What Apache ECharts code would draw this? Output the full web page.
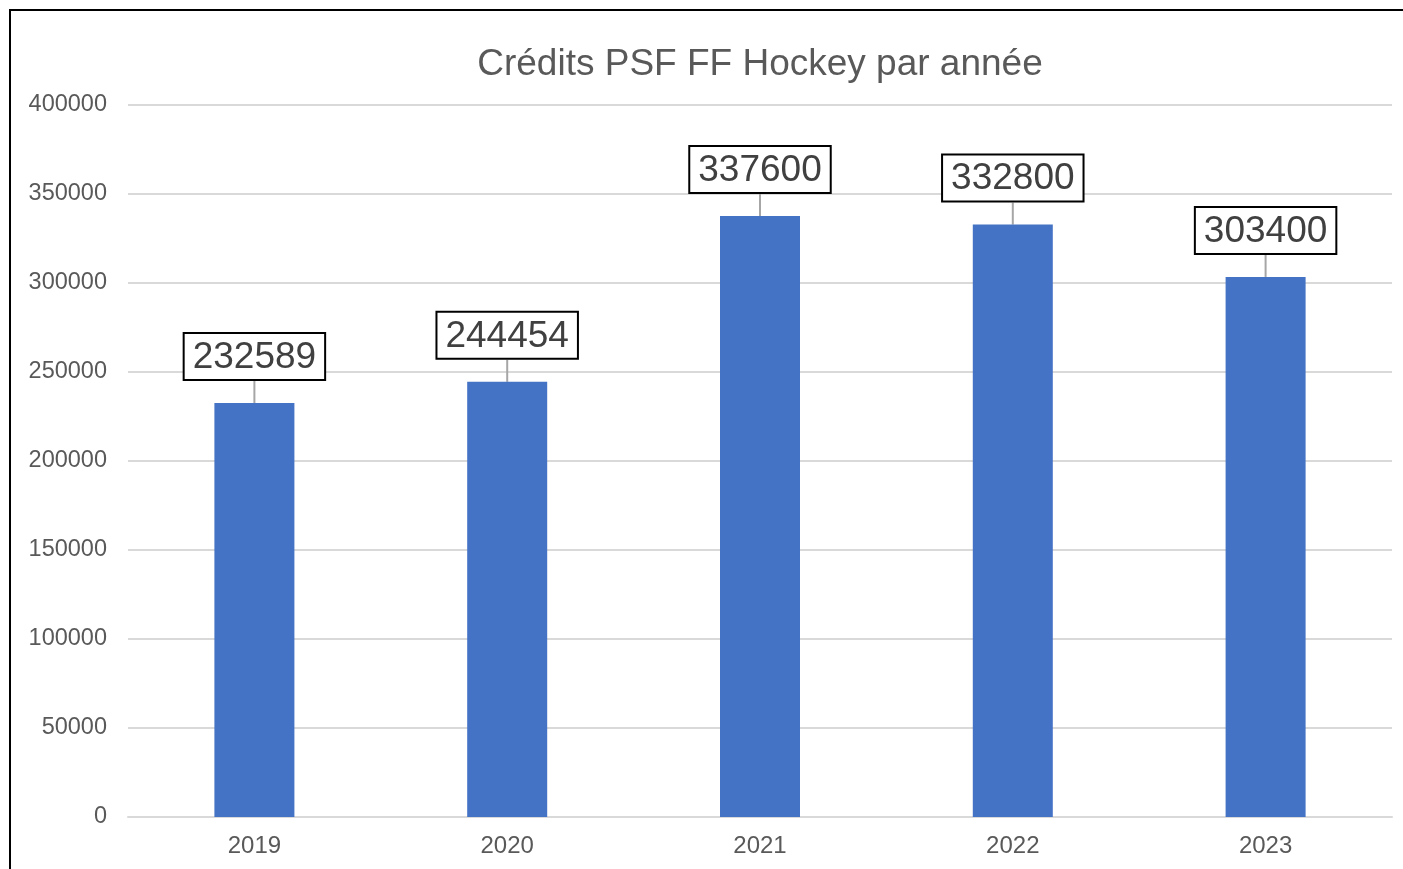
<!DOCTYPE html>
<html>
<head>
<meta charset="utf-8">
<script src="https://cdn.jsdelivr.net/npm/echarts@6/dist/echarts.min.js"></script>
<style>
html, body { margin: 0; padding: 0; background: #fff; overflow: hidden; }
#main { width: 1403px; height: 869px; }
</style>
</head>
<body>
<div id="main"></div>
<script>
var titre = 'Crédits PSF FF Hockey par année';
var annees = ['2019', '2020', '2021', '2022', '2023'];
var credits = [232589, 244454, 337600, 332800, 303400];

var myChart = echarts.init(document.getElementById('main'));
var option = {
	animation: false,
	textStyle: { fontFamily: 'Liberation Sans, Arial, sans-serif' },
	title: {
		text: titre,
		left: 755,
		textAlign: 'center',
		top: 41,
		textStyle: { fontSize: 37, fontWeight: 'normal', color: '#595959' }
	},
	// cadre noir autour du graphique
	graphic: [{
		type: 'rect',
		shape: { x: 10, y: 10, width: 1500, height: 1000 },
		style: { fill: 'none', stroke: '#000', lineWidth: 2 },
		silent: true
	}],
	grid: { left: 128, right: 11, top: 105, bottom: 52, containLabel: false },
	xAxis: {
		type: 'category',
		data: annees,
		axisLine: { lineStyle: { color: '#d9d9d9', width: 2 } },
		axisTick: { show: false },
		axisLabel: { fontSize: 24, color: '#595959', margin: 17 }
	},
	yAxis: {
		type: 'value',
		min: 0,
		max: 400000,
		interval: 50000,
		axisLine: { show: false },
		axisTick: { show: false },
		axisLabel: {
			fontSize: 23.5,
			color: '#595959',
			margin: 21,
			padding: [3, 0, 0, 0],
			formatter: function (v) { return String(v); }
		},
		splitLine: { lineStyle: { color: '#d9d9d9', width: 2 } }
	},
	series: [{
		type: 'bar',
		data: credits,
		barWidth: 80,
		itemStyle: { color: '#4472c4' },
		label: {
			show: true,
			position: 'top',
			distance: 2,
			fontSize: 37,
			color: '#404040',
			backgroundColor: '#fff',
			borderColor: '#000',
			borderWidth: 2,
			padding: [5, 8, 3, 8]
		},
		labelLayout: { dy: -22 },
		labelLine: { show: true, lineStyle: { color: '#a6a6a6', width: 2 } }
	}]
};
myChart.setOption(option);
</script>
</body>
</html>
